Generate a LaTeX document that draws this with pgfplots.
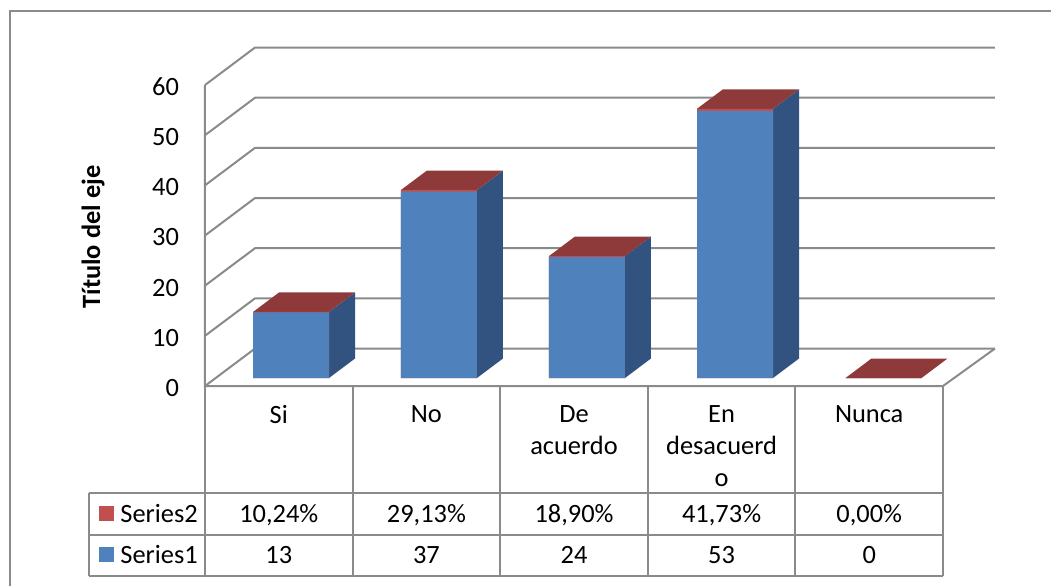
\documentclass[border=0pt]{standalone}
\usepackage{pgfplots}
\usepackage{pgfplotstable}
\usepackage{fontspec}
\setmainfont{Carlito}
\pgfplotsset{compat=1.18}

\definecolor{framegray}{HTML}{8A8A8A}
\definecolor{frontblue}{HTML}{4F81BD}
\definecolor{sideblue}{HTML}{32527F}
\definecolor{frontred}{HTML}{C0504D}
\definecolor{topred}{HTML}{8E3A3A}

\newcommand{\lbl}{\fontsize{13.2}{16}\selectfont}

% x position of each column's front face, Series1 value, Series2 value
\pgfplotstableread{
x     sa  sb
0.583 13  0.1024
1.585 37  0.2913
2.588 24  0.1890
3.591 53  0.4173
4.597 0   0
}\barvalues

% top and side faces of one column: centre x, height with Series2, height of Series1
\newcommand{\barfaces}[2]{%
  \addplot[draw=none,fill=sideblue,no markers] coordinates
    {({#1+0.2575},0) ({#1+0.4335},3.87) ({#1+0.4335},{#2+3.87}) ({#1+0.2575},{#2})};
  \addplot[draw=none,fill=topred,no markers] coordinates
    {({#1-0.2575},{#2}) ({#1+0.2575},{#2}) ({#1+0.4335},{#2+3.87}) ({#1-0.0815},{#2+3.87})};
}
% one gridline: along the side wall, then along the back wall
\newcommand{\gridline}[1]{%
  \addplot[framegray,line width=1pt,no markers,line join=round] coordinates
    {(0,#1) (0.3388,{#1+7.475}) (5.3523,{#1+7.475})};
}

\begin{document}
\begin{tikzpicture}[x=0.5pt,y=-0.5pt]
\path[use as bounding box] (0,0) rectangle (1051,586);

% outer chart frame, open at the right and at the bottom
\draw[framegray,line width=1pt] (9.5,586) -- (9.5,11) -- (1051,11);

% data table below the plot
\begin{scope}[framegray,line width=1pt]
  \draw (89,493) -- (943,493);
  \draw (89,535) -- (943,535);
  \draw (89,576) -- (943,576);
  \draw (89,493) -- (89,576);
  \foreach \vx in {205,352.6,500.2,647.8,795.4,943}
    \draw (\vx,387) -- (\vx,576);
\end{scope}
\fill[frontred]  (99,506) rectangle (114,521);
\fill[frontblue] (99,547) rectangle (114,562);
\node[anchor=base west,inner sep=0,font=\lbl] at (120,522) {Series2};
\node[anchor=base west,inner sep=0,font=\lbl] at (120,563) {Series1};
\foreach \cx/\ta/\tb in {278.8/{10,24\%}/13,426.4/{29,13\%}/37,574/{18,90\%}/24,721.6/{41,73\%}/53,869.2/{0,00\%}/0}{
  \node[anchor=base,inner sep=0,font=\lbl] at (\cx,522) {\ta};
  \node[anchor=base,inner sep=0,font=\lbl] at (\cx,563) {\tb};
}

% walls, floor and value axis
\begin{axis}[
  at={(102.5pt,-193pt)},anchor=south west,
  scale only axis,width=369pt,height=150.5pt,
  xmin=0,xmax=5,ymin=0,ymax=60,
  clip=false,
  axis line style={draw=none},
  tick style={draw=none},
  xtick={0.5,1.5,2.5,3.5,4.5},
  xticklabels={Si,No,De\\acuerdo,En\\desacuerd\\o,Nunca},
  x tick label style={font=\lbl,align=center,anchor=north,yshift=-6pt},
  ytick={0,10,20,30,40,50,60},
  y tick label style={font=\lbl,/pgf/number format/assume math mode=true,anchor=east,xshift=-9.5pt,yshift=-1pt},
  ylabel={\textbf{Título del eje}},
  ylabel style={font=\lbl,at={(axis description cs:-0.1518,0.495)},anchor=center},
]
\addplot[framegray,line width=1pt,no markers] coordinates {(0,60) (0,0) (5,0) (5.3523,7.475)};
\gridline{0}
\gridline{10}
\gridline{20}
\gridline{30}
\gridline{40}
\gridline{50}
\gridline{60}
\end{axis}

% columns, standing a little behind the front edge of the floor
\begin{axis}[
  at={(102.5pt,-193pt)},anchor=south west,
  scale only axis,width=369pt,height=150.5pt,
  xmin=0,xmax=5,ymin=-1.587,ymax=58.13,
  clip=false,hide axis,
]
\barfaces{0.583}{13.1024}
\barfaces{1.585}{37.2913}
\barfaces{2.588}{24.1890}
\barfaces{3.591}{53.4173}
\addplot[draw=none,fill=topred,no markers] coordinates
  {(4.3395,0) (4.8545,0) (5.0305,3.87) (4.5155,3.87)};
\addplot[ybar,bar width=38pt,bar shift=0pt,draw=none,fill=frontred]
  table[x=x,y expr=\thisrow{sa}+\thisrow{sb}] {\barvalues};
\addplot[ybar,bar width=38pt,bar shift=0pt,draw=none,fill=frontblue]
  table[x=x,y=sa] {\barvalues};
\end{axis}
\end{tikzpicture}
\end{document}
